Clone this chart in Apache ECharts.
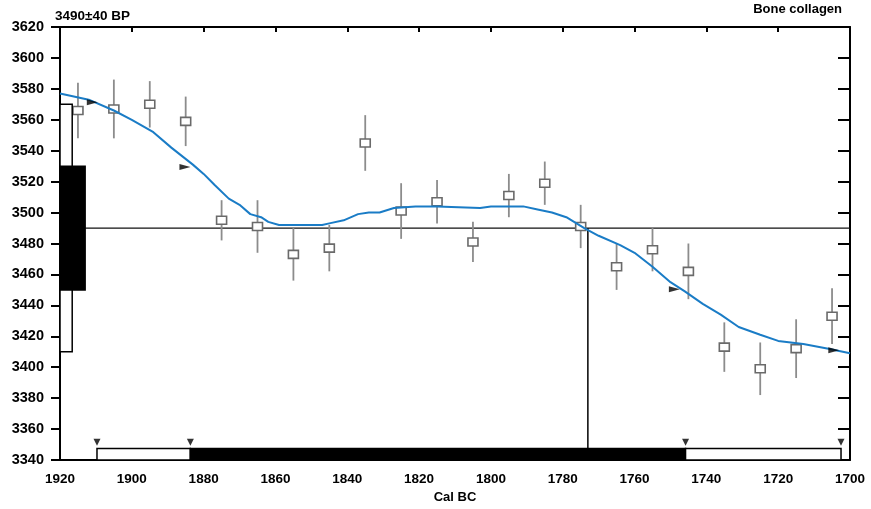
<!DOCTYPE html>
<html>
<head>
<meta charset="utf-8">
<script src="https://cdn.jsdelivr.net/npm/echarts@6/dist/echarts.min.js"></script>
<style>
html,body{margin:0;padding:0;background:#fff;}
#chart{width:871px;height:509px;}
</style>
</head>
<body>
<div id="chart"></div>
<script>
// ---- data ----
const sampleTitle = '3490\u00b140 BP';
const materialTitle = 'Bone collagen';
const xAxisName = 'Cal BC';

// dated samples (decadal wiggle-match points)
const years    = [1915,1905,1895,1885,1875,1865,1855,1845,1835,1825,1815,1805,1795,1785,1775,1765,1755,1745,1735,1725,1715,1705];
const bpValues = [3566,3567,3570,3559,3495,3491,3473,3477,3545,3501,3507,3481,3511,3519,3491,3465,3476,3462,3413,3399,3412,3433];
const bpErrors = [18,19,15,16,13,17,17,15,18,18,14,13,14,14,14,15,14,18,16,17,19,18];

// calibration curve
const curveYears = [1920,1912,1905,1900,1894,1889,1883,1880,1877,1873,1870,1867,1864,1862,1859,1853,1847,1845,1841,1837,1834,1831,1827,1821,1815,1803,1800,1791,1787,1783,1779,1774,1770,1764,1760,1755,1750,1746,1741,1736,1731,1725,1720,1713,1706,1700];
const curveBP    = [3577,3573,3566,3560,3552,3542,3531,3525,3518,3509,3505,3499,3497,3494,3492,3492,3492,3493,3495,3499,3500,3500,3503,3504,3504,3503,3504,3504,3502,3500,3497,3490,3485,3479,3474,3465,3455,3449,3441,3434,3426,3421,3417,3415,3412,3409];

// measured age and its 1/2 sigma ranges on BP axis: [xFrom, xTo, bpLow, bpHigh, filled]
const measuredBP = 3490;
const bpRanges = [
  [1920, 1916.6, 3410, 3570, 0],
  [1920, 1913.0, 3450, 3530, 1]
];

// calibrated ranges on the Cal BC axis: [from, to, bpLow, bpHigh, filled]
const calRanges = [
  [1909.7, 1883.7, 3340, 3347.5, 0],
  [1883.7, 1745.8, 3340, 3347.5, 1],
  [1745.8, 1702.5, 3340, 3347.5, 0]
];
const calBoundYears = [1909.7, 1883.7, 1745.8, 1702.5];
const calBoundBP = 3351.5;
const interceptYear = 1773;

// boundary markers on the curve
const arrowYears = [1911, 1885.2, 1748.9, 1704.5];
const arrowBP    = [3571.4, 3529.4, 3450.4, 3411];

// axis settings
const xMin = 1700, xMax = 1920, xStep = 20;
const yMin = 3340, yMax = 3620, yStep = 20;

// ---- chart ----
const chart = echarts.init(document.getElementById('chart'), null, {renderer:'canvas'});
const FONT = '"Liberation Sans", Arial, Helvetica, sans-serif';
const plain = v => String(v);

const pointData = years.map((y,i)=>[y, bpValues[i], bpErrors[i]]);
const curveData = curveYears.map((y,i)=>[y, curveBP[i]]);

function rectItem(params, api){
  const p0 = api.coord([api.value(0), api.value(3)]);
  const p1 = api.coord([api.value(1), api.value(2)]);
  const x = Math.min(p0[0], p1[0]), w = Math.abs(p1[0]-p0[0]);
  const y = Math.min(p0[1], p1[1]), h = Math.abs(p1[1]-p0[1]);
  const filled = api.value(4) === 1;
  return {type:'rect', shape:{x:x, y:y, width:w, height:h},
    style:{fill: filled ? '#000' : '#fff', stroke:'#000', lineWidth:1.5}};
}

const option = {
  animation:false,
  backgroundColor:'#fff',
  title:[
    {text:sampleTitle, left:55, top:9, padding:0, textStyle:{fontFamily:FONT, fontSize:13.5, fontWeight:'bold', color:'#000'}},
    {text:materialTitle, right:29, top:3, padding:0, textStyle:{fontFamily:FONT, fontSize:13, fontWeight:'bold', color:'#000'}}
  ],
  grid:{left:60, right:21, top:27, bottom:42},
  xAxis:[
    {type:'value', position:'bottom', inverse:true, min:xMin, max:xMax, interval:xStep,
     axisLine:{onZero:false, lineStyle:{color:'#000', width:2}},
     axisTick:{inside:true, length:4, lineStyle:{color:'#000', width:2}},
     axisLabel:{color:'#000', fontFamily:FONT, fontSize:13.5, fontWeight:'bold', margin:12, formatter:plain},
     splitLine:{show:false},
     name:xAxisName, nameLocation:'middle', nameGap:31,
     nameTextStyle:{color:'#000', fontFamily:FONT, fontSize:13, fontWeight:'bold'}},
    {type:'value', position:'top', inverse:true, min:xMin, max:xMax, interval:xStep,
     axisLine:{onZero:false, lineStyle:{color:'#000', width:2}},
     axisTick:{inside:true, length:5, lineStyle:{color:'#000', width:2}},
     axisLabel:{show:false}, splitLine:{show:false}}
  ],
  yAxis:[
    {type:'value', position:'left', min:yMin, max:yMax, interval:yStep,
     axisLine:{onZero:false, lineStyle:{color:'#000', width:2}},
     axisTick:{inside:false, length:9, lineStyle:{color:'#000', width:2}},
     axisLabel:{color:'#000', fontFamily:FONT, fontSize:14.5, fontWeight:'bold', margin:16, formatter:plain},
     splitLine:{show:false}},
    {type:'value', position:'right', min:yMin, max:yMax, interval:yStep,
     axisLine:{onZero:false, lineStyle:{color:'#000', width:2}},
     axisTick:{inside:true, length:12, lineStyle:{color:'#000', width:2}},
     axisLabel:{show:false}, splitLine:{show:false}}
  ],
  series:[
    {type:'line', data:[[bpRanges[1][1], measuredBP],[xMin, measuredBP]], symbol:'none',
     lineStyle:{color:'#111', width:1.3}, z:2, silent:true},
    {type:'line', data:[[interceptYear, measuredBP],[interceptYear, calRanges[1][3]]], symbol:'none',
     lineStyle:{color:'#111', width:1.6}, z:2, silent:true},
    {type:'custom', data:pointData, z:3,
     renderItem:function(params, api){
       const x = api.value(0), v = api.value(1), e = api.value(2);
       const t = api.coord([x, v+e]), b = api.coord([x, v-e]), c = api.coord([x, v]);
       return {type:'group', children:[
         {type:'line', shape:{x1:t[0], y1:t[1], x2:b[0], y2:b[1]}, style:{stroke:'#8c8c8c', lineWidth:1.8}},
         {type:'rect', shape:{x:c[0]-5, y:c[1]-4, width:10, height:8}, style:{fill:'#fff', stroke:'#6a6a6a', lineWidth:1.6}}
       ]};
     }},
    {type:'line', data:curveData, symbol:'none', smooth:false,
     lineStyle:{color:'#1a7cc6', width:2}, z:4, silent:true},
    {type:'scatter', data:arrowYears.map((y,i)=>[y, arrowBP[i]]), symbol:'triangle', symbolSize:[6,11], symbolRotate:-90,
     itemStyle:{color:'#000'}, z:5, silent:true},
    {type:'custom', data:bpRanges, renderItem:rectItem, z:3},
    {type:'custom', data:calRanges, renderItem:rectItem, z:3},
    {type:'scatter', data:calBoundYears.map(y=>[y, calBoundBP]), symbol:'triangle', symbolSize:[7,7], symbolRotate:180,
     itemStyle:{color:'#000'}, z:5, silent:true}
  ]
};
chart.setOption(option);
</script>
</body>
</html>
